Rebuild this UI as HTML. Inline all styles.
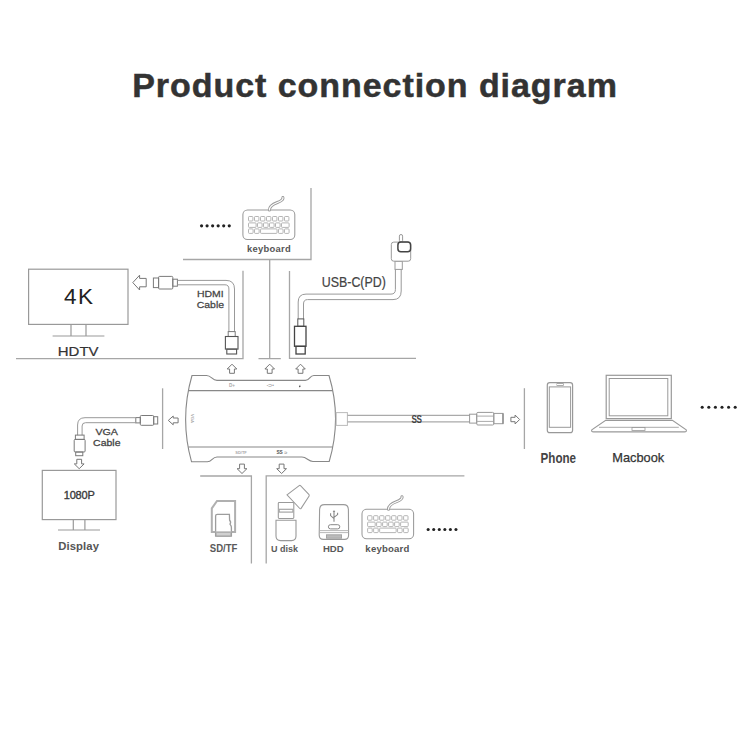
<!DOCTYPE html>
<html><head><meta charset="utf-8"><style>
html,body{margin:0;padding:0;background:#fff;width:750px;height:750px;overflow:hidden;font-family:"Liberation Sans", sans-serif;}
</style></head><body>
<svg width="750" height="750" viewBox="0 0 750 750" style="position:absolute;left:0;top:0" font-family='"Liberation Sans", sans-serif'>
<rect width="750" height="750" fill="#fff"/>
<text x="375" y="97.4" font-size="34" font-weight="bold" fill="#333" text-anchor="middle" letter-spacing="0.95" stroke="#333" stroke-width="0.5">Product connection diagram</text>
<rect x="28.6" y="269.2" width="99.4" height="55.2" rx="0" fill="none" stroke="#999" stroke-width="1.2"/>
<path d="M71,324.4 V336 M86,324.4 V336" fill="none" stroke="#999" stroke-width="1.2"/>
<path d="M52.6,336 H104.4" fill="none" stroke="#999" stroke-width="1.2"/>
<text x="79.2" y="304.4" font-size="22.5" font-weight="normal" fill="#222" text-anchor="middle" letter-spacing="1.5">4K</text>
<text x="78.2" y="355.6" font-size="12.6" font-weight="normal" fill="#333" text-anchor="middle" transform="translate(78.2,0) scale(1.19,1) translate(-78.2,0)" stroke="#333" stroke-width="0.2">HDTV</text>
<path d="M16,358.7 H243 V270.8" fill="none" stroke="#a6a6a6" stroke-width="1.3"/>
<path d="M132.8,282.6 L139.60000000000002,275.20000000000005 V278.40000000000003 H146.20000000000002 V286.8 H139.60000000000002 V290.0 Z" fill="none" stroke="#777" stroke-width="1.0"/>
<rect x="153.4" y="278" width="5.2" height="9.6" rx="0" fill="none" stroke="#7a7a7a" stroke-width="1.0"/>
<rect x="158.6" y="276.4" width="14.2" height="12.6" rx="1" fill="none" stroke="#7a7a7a" stroke-width="1.0"/>
<rect x="172.8" y="279.2" width="4.6" height="7.0" rx="0" fill="none" stroke="#7a7a7a" stroke-width="1.0"/>
<path d="M177.4,280.4 H226 Q234.5,280.4 234.5,289 V331.6" fill="none" stroke="#999" stroke-width="1.0"/>
<path d="M177.4,284.8 H225 Q228.9,284.8 228.9,289 V331.6" fill="none" stroke="#999" stroke-width="1.0"/>
<rect x="228.2" y="331.6" width="7.0" height="4.9" rx="0" fill="none" stroke="#7a7a7a" stroke-width="1.0"/>
<rect x="225.4" y="336.5" width="12.6" height="12.6" rx="0" fill="none" stroke="#555" stroke-width="1.1"/>
<rect x="226.8" y="349.1" width="9.8" height="4.9" rx="0" fill="none" stroke="#555" stroke-width="1.1"/>
<text x="210.3" y="297.4" font-size="9.8" font-weight="normal" fill="#444" text-anchor="middle" transform="translate(210.3,0) scale(1.07,1) translate(-210.3,0)" stroke="#444" stroke-width="0.25">HDMI</text>
<text x="210.4" y="308.1" font-size="9.8" font-weight="normal" fill="#444" text-anchor="middle" transform="translate(210.4,0) scale(1.07,1) translate(-210.4,0)" stroke="#444" stroke-width="0.25">Cable</text>
<path d="M183,259.5 H311 V188" fill="none" stroke="#a6a6a6" stroke-width="1.3"/>
<path d="M269.7,259.5 V358.6 M258.5,358.6 H280.8" fill="none" stroke="#a6a6a6" stroke-width="1.3"/>
<circle cx="201.55" cy="225.8" r="1.59" fill="#222"/>
<circle cx="207.09" cy="225.8" r="1.59" fill="#222"/>
<circle cx="212.63" cy="225.8" r="1.59" fill="#222"/>
<circle cx="218.17" cy="225.8" r="1.59" fill="#222"/>
<circle cx="223.71" cy="225.8" r="1.59" fill="#222"/>
<circle cx="229.25" cy="225.8" r="1.59" fill="#222"/>
<rect x="242.9" y="210" width="51.9" height="29.5" rx="4.6" fill="none" stroke="#9a9a9a" stroke-width="1.05"/>
<rect x="248.50" y="216.5" width="4.40" height="4.5" rx="0.8" fill="none" stroke="#a8a8a8" stroke-width="0.85"/>
<rect x="254.50" y="216.5" width="4.40" height="4.5" rx="0.8" fill="none" stroke="#a8a8a8" stroke-width="0.85"/>
<rect x="260.50" y="216.5" width="4.40" height="4.5" rx="0.8" fill="none" stroke="#a8a8a8" stroke-width="0.85"/>
<rect x="266.50" y="216.5" width="4.40" height="4.5" rx="0.8" fill="none" stroke="#a8a8a8" stroke-width="0.85"/>
<rect x="272.50" y="216.5" width="4.40" height="4.5" rx="0.8" fill="none" stroke="#a8a8a8" stroke-width="0.85"/>
<rect x="278.50" y="216.5" width="4.40" height="4.5" rx="0.8" fill="none" stroke="#a8a8a8" stroke-width="0.85"/>
<rect x="284.50" y="216.5" width="4.40" height="4.5" rx="0.8" fill="none" stroke="#a8a8a8" stroke-width="0.85"/>
<rect x="248.50" y="222.9" width="7.60" height="4.5" rx="0.8" fill="none" stroke="#a8a8a8" stroke-width="0.85"/>
<rect x="257.50" y="222.9" width="4.60" height="4.5" rx="0.8" fill="none" stroke="#a8a8a8" stroke-width="0.85"/>
<rect x="263.50" y="222.9" width="4.60" height="4.5" rx="0.8" fill="none" stroke="#a8a8a8" stroke-width="0.85"/>
<rect x="269.50" y="222.9" width="4.60" height="4.5" rx="0.8" fill="none" stroke="#a8a8a8" stroke-width="0.85"/>
<rect x="275.50" y="222.9" width="4.60" height="4.5" rx="0.8" fill="none" stroke="#a8a8a8" stroke-width="0.85"/>
<rect x="281.50" y="222.9" width="7.60" height="4.5" rx="0.8" fill="none" stroke="#a8a8a8" stroke-width="0.85"/>
<rect x="248.51" y="228.9" width="4.60" height="4.5" rx="0.8" fill="none" stroke="#a8a8a8" stroke-width="0.85"/>
<rect x="254.53" y="228.9" width="4.60" height="4.5" rx="0.8" fill="none" stroke="#a8a8a8" stroke-width="0.85"/>
<rect x="260.55" y="228.9" width="16.50" height="4.5" rx="0.8" fill="none" stroke="#a8a8a8" stroke-width="0.85"/>
<rect x="278.47" y="228.9" width="4.60" height="4.5" rx="0.8" fill="none" stroke="#a8a8a8" stroke-width="0.85"/>
<rect x="284.49" y="228.9" width="4.60" height="4.5" rx="0.8" fill="none" stroke="#a8a8a8" stroke-width="0.85"/>
<path d="M269.4,210 C269.4,206 273.4,204 277.4,202.5 S283.4,199 282.9,197.5" fill="none" stroke="#9a9a9a" stroke-width="3.0" stroke-linecap="round"/>
<path d="M269.4,210 C269.4,206 273.4,204 277.4,202.5 S283.4,199 282.9,197.5" fill="none" stroke="#fff" stroke-width="1.2" stroke-linecap="round"/>
<text x="269.0" y="251.8" font-size="9.4" font-weight="bold" fill="#555" text-anchor="middle" letter-spacing="0.3">keyboard</text>
<path d="M289.5,270.9 V358.4 H416" fill="none" stroke="#a6a6a6" stroke-width="1.3"/>
<text x="353.8" y="287" font-size="13.8" font-weight="normal" fill="#444" text-anchor="middle" transform="translate(353.8,0) scale(0.9,1) translate(-353.8,0)" stroke="#444" stroke-width="0.2">USB-C(PD)</text>
<path d="M298.2,318.9 V302 Q298.2,294.1 306,294.1 H391 Q395.4,294.1 395.4,289.5 V269.4" fill="none" stroke="#999" stroke-width="1.0"/>
<path d="M303.5,318.9 V304 Q303.5,299.6 307.5,299.6 H393 Q401.2,299.6 401.2,291 V269.4" fill="none" stroke="#999" stroke-width="1.0"/>
<rect x="297.8" y="318.9" width="6.0" height="7.4" rx="0" fill="none" stroke="#555" stroke-width="1.0"/>
<rect x="294.5" y="326.3" width="11.5" height="20.0" rx="0" fill="none" stroke="#444" stroke-width="1.3"/>
<rect x="296" y="346.3" width="9.2" height="7.7" rx="0" fill="none" stroke="#444" stroke-width="1.3"/>
<rect x="395" y="261.2" width="7.3" height="8.2" rx="0" fill="none" stroke="#999" stroke-width="1.0"/>
<rect x="399.4" y="234.5" width="3.2" height="7.6" rx="1.6" fill="none" stroke="#999" stroke-width="1.0"/>
<rect x="391.3" y="242.1" width="19.4" height="19.1" rx="2.5" fill="#fff" stroke="#999" stroke-width="1.0"/>
<rect x="397.9" y="242.1" width="12.7" height="9.6" rx="3" fill="none" stroke="#444" stroke-width="1.5"/>
<path d="M232,364.2 L236.8,369.0 H234.4 V373.3 H229.6 V369.0 H227.2 Z" fill="none" stroke="#777" stroke-width="1.0" stroke-linejoin="miter"/>
<path d="M269.7,364.2 L274.5,369.0 H272.09999999999997 V373.3 H267.3 V369.0 H264.9 Z" fill="none" stroke="#777" stroke-width="1.0" stroke-linejoin="miter"/>
<path d="M300.5,364.2 L305.3,369.0 H302.9 V373.3 H298.1 V369.0 H295.7 Z" fill="none" stroke="#777" stroke-width="1.0" stroke-linejoin="miter"/>
<path d="M192,375.5 H206.6 C211.5,375.5 212,380.4 217,380.4 H305.4 C310,380.4 309.5,375.5 313.8,375.5 H329 Q342,418.5 329.2,461.5 H313 C308,461.5 307,457 301.9,457 H217 C212,457 212.3,461.7 207.3,461.7 H191.5 Q179.5,418.5 192,375.5 Z" fill="none" stroke="#888" stroke-width="1.1"/>
<path d="M188.4,390.6 H332.7 M188.4,447 H332.7" fill="none" stroke="#888" stroke-width="1.2"/>
<g font-family="Liberation Sans, sans-serif">
<text x="232" y="387.4" font-size="4.6" font-weight="bold" fill="#aaa" text-anchor="middle">D+</text>
<text x="270.2" y="387.4" font-size="4.6" font-weight="bold" fill="#999" text-anchor="middle">-&#8835;&#8226;</text>
<path d="M300.2,384.2 L298.9,386.9 H299.9 L299.2,388.6 L300.9,385.8 H299.9 Z" fill="#444"/>
<text x="241" y="454" font-size="4" font-weight="bold" fill="#aaa" text-anchor="middle">SD/TF</text>
<text x="279.6" y="454.2" font-size="4.8" font-weight="bold" fill="#555" text-anchor="middle">SS</text>
<text x="285.4" y="454" font-size="4.4" font-weight="bold" fill="#888" text-anchor="middle">&#8835;</text>
<text x="0" y="0" font-size="4.2" font-weight="bold" fill="#aaa" text-anchor="middle" transform="translate(190.9,418.6) rotate(90)">VGA</text>
</g>
<rect x="336.2" y="412.6" width="11.2" height="12.8" rx="0" fill="none" stroke="#bbb" stroke-width="1.0"/>
<path d="M347.4,415.4 H469.6 M347.4,421.9 H469.6" fill="none" stroke="#aaa" stroke-width="1.2"/>
<text x="416.4" y="422.6" font-size="11" font-weight="bold" fill="#444" text-anchor="middle" letter-spacing="-0.6" transform="translate(416.4,0) scale(0.74,1) translate(-416.4,0)">SS</text>
<rect x="469.6" y="414.2" width="7.1" height="8.9" rx="0" fill="none" stroke="#999" stroke-width="1.0"/>
<rect x="476.7" y="412.4" width="17.1" height="12.6" rx="1.2" fill="none" stroke="#999" stroke-width="1.0"/>
<path d="M476.7,416.1 H493.8 M476.7,421.4 H493.8" fill="none" stroke="#aaa" stroke-width="1.0"/>
<rect x="493.8" y="413.4" width="9.2" height="10.3" rx="0" fill="none" stroke="#9a9a9a" stroke-width="1.0"/>
<path d="M503,413.4 V423.7" fill="none" stroke="#888" stroke-width="1.3"/>
<path d="M519.6,419.5 L515.1,415.0 V417.3 H510.90000000000003 V421.7 H515.1 V424.0 Z" fill="none" stroke="#777" stroke-width="1.0"/>
<path d="M524.4,388.2 V449" fill="none" stroke="#a6a6a6" stroke-width="1.3"/>
<path d="M162.6,388.3 V449" fill="none" stroke="#a6a6a6" stroke-width="1.3"/>
<path d="M168.3,420.4 L173.20000000000002,416.0 V418.0 H178.10000000000002 V422.79999999999995 H173.20000000000002 V424.79999999999995 Z" fill="none" stroke="#777" stroke-width="1.0"/>
<rect x="135.8" y="417.6" width="4.5" height="5.3" rx="0" fill="none" stroke="#7a7a7a" stroke-width="1.0"/>
<rect x="140.3" y="415.5" width="13.4" height="9.8" rx="1" fill="none" stroke="#7a7a7a" stroke-width="1.0"/>
<rect x="153.7" y="416.7" width="4.0" height="7.3" rx="0" fill="none" stroke="#7a7a7a" stroke-width="1.0"/>
<path d="M135.8,417.7 H85 Q77.6,417.7 77.6,425 V435.2" fill="none" stroke="#999" stroke-width="1.0"/>
<path d="M135.8,422.7 H85.5 Q82.1,422.7 82.1,426 V435.2" fill="none" stroke="#999" stroke-width="1.0"/>
<rect x="75.4" y="435.1" width="8.7" height="4.3" rx="0" fill="none" stroke="#7a7a7a" stroke-width="1.0"/>
<rect x="74.2" y="439.4" width="10.9" height="12.6" rx="1" fill="none" stroke="#7a7a7a" stroke-width="1.0"/>
<rect x="75.7" y="452" width="7.1" height="3.7" rx="0" fill="none" stroke="#7a7a7a" stroke-width="1.0"/>
<path d="M79.2,468.7 L84.10000000000001,463.9 H81.60000000000001 V459.29999999999995 H76.8 V463.9 H74.3 Z" fill="none" stroke="#777" stroke-width="1.0"/>
<text x="106.7" y="434.9" font-size="9.9" font-weight="normal" fill="#444" text-anchor="middle" transform="translate(106.7,0) scale(1.08,1) translate(-106.7,0)" stroke="#444" stroke-width="0.3">VGA</text>
<text x="106.8" y="446.4" font-size="9.8" font-weight="normal" fill="#444" text-anchor="middle" transform="translate(106.8,0) scale(1.07,1) translate(-106.8,0)" stroke="#444" stroke-width="0.3">Cable</text>
<rect x="42.3" y="470.4" width="73.7" height="49.2" rx="0" fill="none" stroke="#999" stroke-width="1.2"/>
<path d="M73.3,519.6 V530 M84.9,519.6 V530" fill="none" stroke="#999" stroke-width="1.2"/>
<path d="M58,530 H100" fill="none" stroke="#999" stroke-width="1.2"/>
<text x="79.2" y="499.3" font-size="11" font-weight="normal" fill="#3a3a3a" text-anchor="middle" letter-spacing="-0.2" stroke="#3a3a3a" stroke-width="0.35">1080P</text>
<text x="78.6" y="550.3" font-size="11.3" font-weight="bold" fill="#555" text-anchor="middle" letter-spacing="0.1">Display</text>
<path d="M242,473.5 L246.9,468.7 H244.4 V464.09999999999997 H239.6 V468.7 H237.1 Z" fill="none" stroke="#777" stroke-width="1.0"/>
<path d="M281.6,473.5 L286.5,468.7 H284.0 V464.09999999999997 H279.20000000000005 V468.7 H276.70000000000005 Z" fill="none" stroke="#777" stroke-width="1.0"/>
<path d="M200.2,476 H251.4 V563.5" fill="none" stroke="#a6a6a6" stroke-width="1.3"/>
<path d="M266.2,563.5 V475.8 H464.4" fill="none" stroke="#a6a6a6" stroke-width="1.3"/>
<path d="M217,500.9 H235.1 V531.9 H211.8 V508.4 Z" fill="none" stroke="#b0b0b0" stroke-width="2.0"/>
<path d="M215.6,536.2 V516 Q215.6,514.3 217.3,514.3 H229.4 L229.6,520.2 Q231.4,522 230,524.2 Q231.6,526.2 231.4,527.8 V536.2 Z" fill="#fff" stroke="#9d9d9d" stroke-width="1.3"/>
<rect x="216" y="532.3" width="15" height="3.7" rx="0.8" fill="#d0d0d0" stroke="#a0a0a0" stroke-width="1.0"/>
<path d="M215,531.9 H232" fill="none" stroke="#b5b5b5" stroke-width="1.0"/>
<text x="223.6" y="551.6" font-size="10.2" font-weight="bold" fill="#5a5a5a" text-anchor="middle" transform="translate(223.6,0) scale(0.94,1) translate(-223.6,0)" >SD/TF</text>
<path d="M287,494.9 L299.2,485.6 Q299.9,485.1 300.5,485.7 L308.8,494.3 Q309.5,495.1 309.1,496.1 L301.1,508.4 Q300.5,509.2 299.8,508.5 Z" fill="none" stroke="#9a9a9a" stroke-width="1.05"/>
<rect x="278.3" y="502.4" width="15.5" height="16.0" rx="0.8" fill="none" stroke="#9a9a9a" stroke-width="1.05"/>
<rect x="279.2" y="509.3" width="13.7" height="2.8" rx="0" fill="none" stroke="#a5a5a5" stroke-width="1.2"/>
<path d="M276,520.2 H296 V536 Q296,540.6 291.5,540.6 H280.5 Q276,540.6 276,536 Z" fill="none" stroke="#999" stroke-width="1.1"/>
<text x="284.5" y="551.6" font-size="9.8" font-weight="bold" fill="#5a5a5a" text-anchor="middle" transform="translate(284.5,0) scale(0.92,1) translate(-284.5,0)" >U disk</text>
<path d="M324.5,504.6 H343.5 Q348.2,504.6 348.4,509.5 L348.6,535 Q348.6,539.4 344.5,539.4 H323.5 Q319.2,539.4 319.2,535 L319.6,509.5 Q319.8,504.6 324.5,504.6 Z" fill="none" stroke="#9a9a9a" stroke-width="1.1"/>
<path d="M319.4,530.6 H348.5 M319.4,532.6 H348.5" fill="none" stroke="#b0b0b0" stroke-width="0.9"/>
<rect x="326.4" y="534.8" width="15.2" height="3.4" rx="0" fill="#bbb" stroke="#999" stroke-width="0.8"/>
<rect x="328.4" y="524.7" width="11.4" height="4.2" rx="2.1" fill="none" stroke="#888" stroke-width="1.0"/>
<path d="M334,521.7 V511.2 M334,518.6 L330.6,515.6 V513.2 M334,517.4 L337.6,514.6 V512.8" fill="none" stroke="#888" stroke-width="1.1"/>
<path d="M334,510 L335.3,512 H332.7 Z" fill="#888"/>
<text x="333.3" y="551.6" font-size="9.6" font-weight="bold" fill="#5a5a5a" text-anchor="middle" >HDD</text>
<rect x="362" y="509.2" width="51.6" height="29.6" rx="4.6" fill="none" stroke="#9a9a9a" stroke-width="1.05"/>
<rect x="367.60" y="515.7" width="4.40" height="4.5" rx="0.8" fill="none" stroke="#a8a8a8" stroke-width="0.85"/>
<rect x="373.60" y="515.7" width="4.40" height="4.5" rx="0.8" fill="none" stroke="#a8a8a8" stroke-width="0.85"/>
<rect x="379.60" y="515.7" width="4.40" height="4.5" rx="0.8" fill="none" stroke="#a8a8a8" stroke-width="0.85"/>
<rect x="385.60" y="515.7" width="4.40" height="4.5" rx="0.8" fill="none" stroke="#a8a8a8" stroke-width="0.85"/>
<rect x="391.60" y="515.7" width="4.40" height="4.5" rx="0.8" fill="none" stroke="#a8a8a8" stroke-width="0.85"/>
<rect x="397.60" y="515.7" width="4.40" height="4.5" rx="0.8" fill="none" stroke="#a8a8a8" stroke-width="0.85"/>
<rect x="403.60" y="515.7" width="4.40" height="4.5" rx="0.8" fill="none" stroke="#a8a8a8" stroke-width="0.85"/>
<rect x="367.60" y="522.1" width="7.60" height="4.5" rx="0.8" fill="none" stroke="#a8a8a8" stroke-width="0.85"/>
<rect x="376.60" y="522.1" width="4.60" height="4.5" rx="0.8" fill="none" stroke="#a8a8a8" stroke-width="0.85"/>
<rect x="382.60" y="522.1" width="4.60" height="4.5" rx="0.8" fill="none" stroke="#a8a8a8" stroke-width="0.85"/>
<rect x="388.60" y="522.1" width="4.60" height="4.5" rx="0.8" fill="none" stroke="#a8a8a8" stroke-width="0.85"/>
<rect x="394.60" y="522.1" width="4.60" height="4.5" rx="0.8" fill="none" stroke="#a8a8a8" stroke-width="0.85"/>
<rect x="400.60" y="522.1" width="7.60" height="4.5" rx="0.8" fill="none" stroke="#a8a8a8" stroke-width="0.85"/>
<rect x="367.61" y="528.1" width="4.60" height="4.5" rx="0.8" fill="none" stroke="#a8a8a8" stroke-width="0.85"/>
<rect x="373.63" y="528.1" width="4.60" height="4.5" rx="0.8" fill="none" stroke="#a8a8a8" stroke-width="0.85"/>
<rect x="379.65" y="528.1" width="16.50" height="4.5" rx="0.8" fill="none" stroke="#a8a8a8" stroke-width="0.85"/>
<rect x="397.57" y="528.1" width="4.60" height="4.5" rx="0.8" fill="none" stroke="#a8a8a8" stroke-width="0.85"/>
<rect x="403.59" y="528.1" width="4.60" height="4.5" rx="0.8" fill="none" stroke="#a8a8a8" stroke-width="0.85"/>
<path d="M388.5,509.2 C388.5,505.2 392.5,503.2 396.5,501.7 S402.5,498.2 402.0,496.7" fill="none" stroke="#9a9a9a" stroke-width="3.0" stroke-linecap="round"/>
<path d="M388.5,509.2 C388.5,505.2 392.5,503.2 396.5,501.7 S402.5,498.2 402.0,496.7" fill="none" stroke="#fff" stroke-width="1.2" stroke-linecap="round"/>
<text x="387.5" y="551.5" font-size="9.6" font-weight="bold" fill="#555" text-anchor="middle" letter-spacing="0.2">keyboard</text>
<circle cx="428.15" cy="529.5" r="1.53" fill="#222"/>
<circle cx="433.71" cy="529.5" r="1.53" fill="#222"/>
<circle cx="439.27" cy="529.5" r="1.53" fill="#222"/>
<circle cx="444.83" cy="529.5" r="1.53" fill="#222"/>
<circle cx="450.39" cy="529.5" r="1.53" fill="#222"/>
<circle cx="455.95" cy="529.5" r="1.53" fill="#222"/>
<rect x="547.3" y="382.7" width="25.3" height="50.0" rx="2.5" fill="none" stroke="#999" stroke-width="1.2"/>
<rect x="549.3" y="386.9" width="21.3" height="40.4" rx="0" fill="none" stroke="#999" stroke-width="1.0"/>
<rect x="557" y="383.6" width="6.3" height="1.8" rx="0" fill="none" stroke="#999" stroke-width="0.8"/>
<text x="558.3" y="462.7" font-size="14.2" font-weight="bold" fill="#444" text-anchor="middle" transform="translate(558.3,0) scale(0.82,1) translate(-558.3,0)">Phone</text>
<rect x="606.2" y="375.3" width="65.1" height="43.3" rx="0" fill="none" stroke="#999" stroke-width="1.2"/>
<rect x="609.2" y="378.5" width="58.6" height="37.3" rx="0" fill="none" stroke="#999" stroke-width="1.0"/>
<path d="M605.7,420.4 H672.4 L686.2,429.8 Q687,431.9 684.5,431.9 H593.5 Q591,431.9 591.8,429.8 Z" fill="none" stroke="#999" stroke-width="1.1"/>
<path d="M599,427.3 H678.8" fill="none" stroke="#aaa" stroke-width="1.0"/>
<rect x="632" y="427.5" width="13" height="3.0" rx="0" fill="none" stroke="#999" stroke-width="0.8"/>
<text x="638.2" y="462.1" font-size="12.8" font-weight="normal" fill="#333" text-anchor="middle" stroke="#333" stroke-width="0.25">Macbook</text>
<circle cx="702.20" cy="407.2" r="1.53" fill="#222"/>
<circle cx="708.80" cy="407.2" r="1.53" fill="#222"/>
<circle cx="715.40" cy="407.2" r="1.53" fill="#222"/>
<circle cx="722.00" cy="407.2" r="1.53" fill="#222"/>
<circle cx="728.60" cy="407.2" r="1.53" fill="#222"/>
<circle cx="735.20" cy="407.2" r="1.53" fill="#222"/>
</svg>
</body></html>
